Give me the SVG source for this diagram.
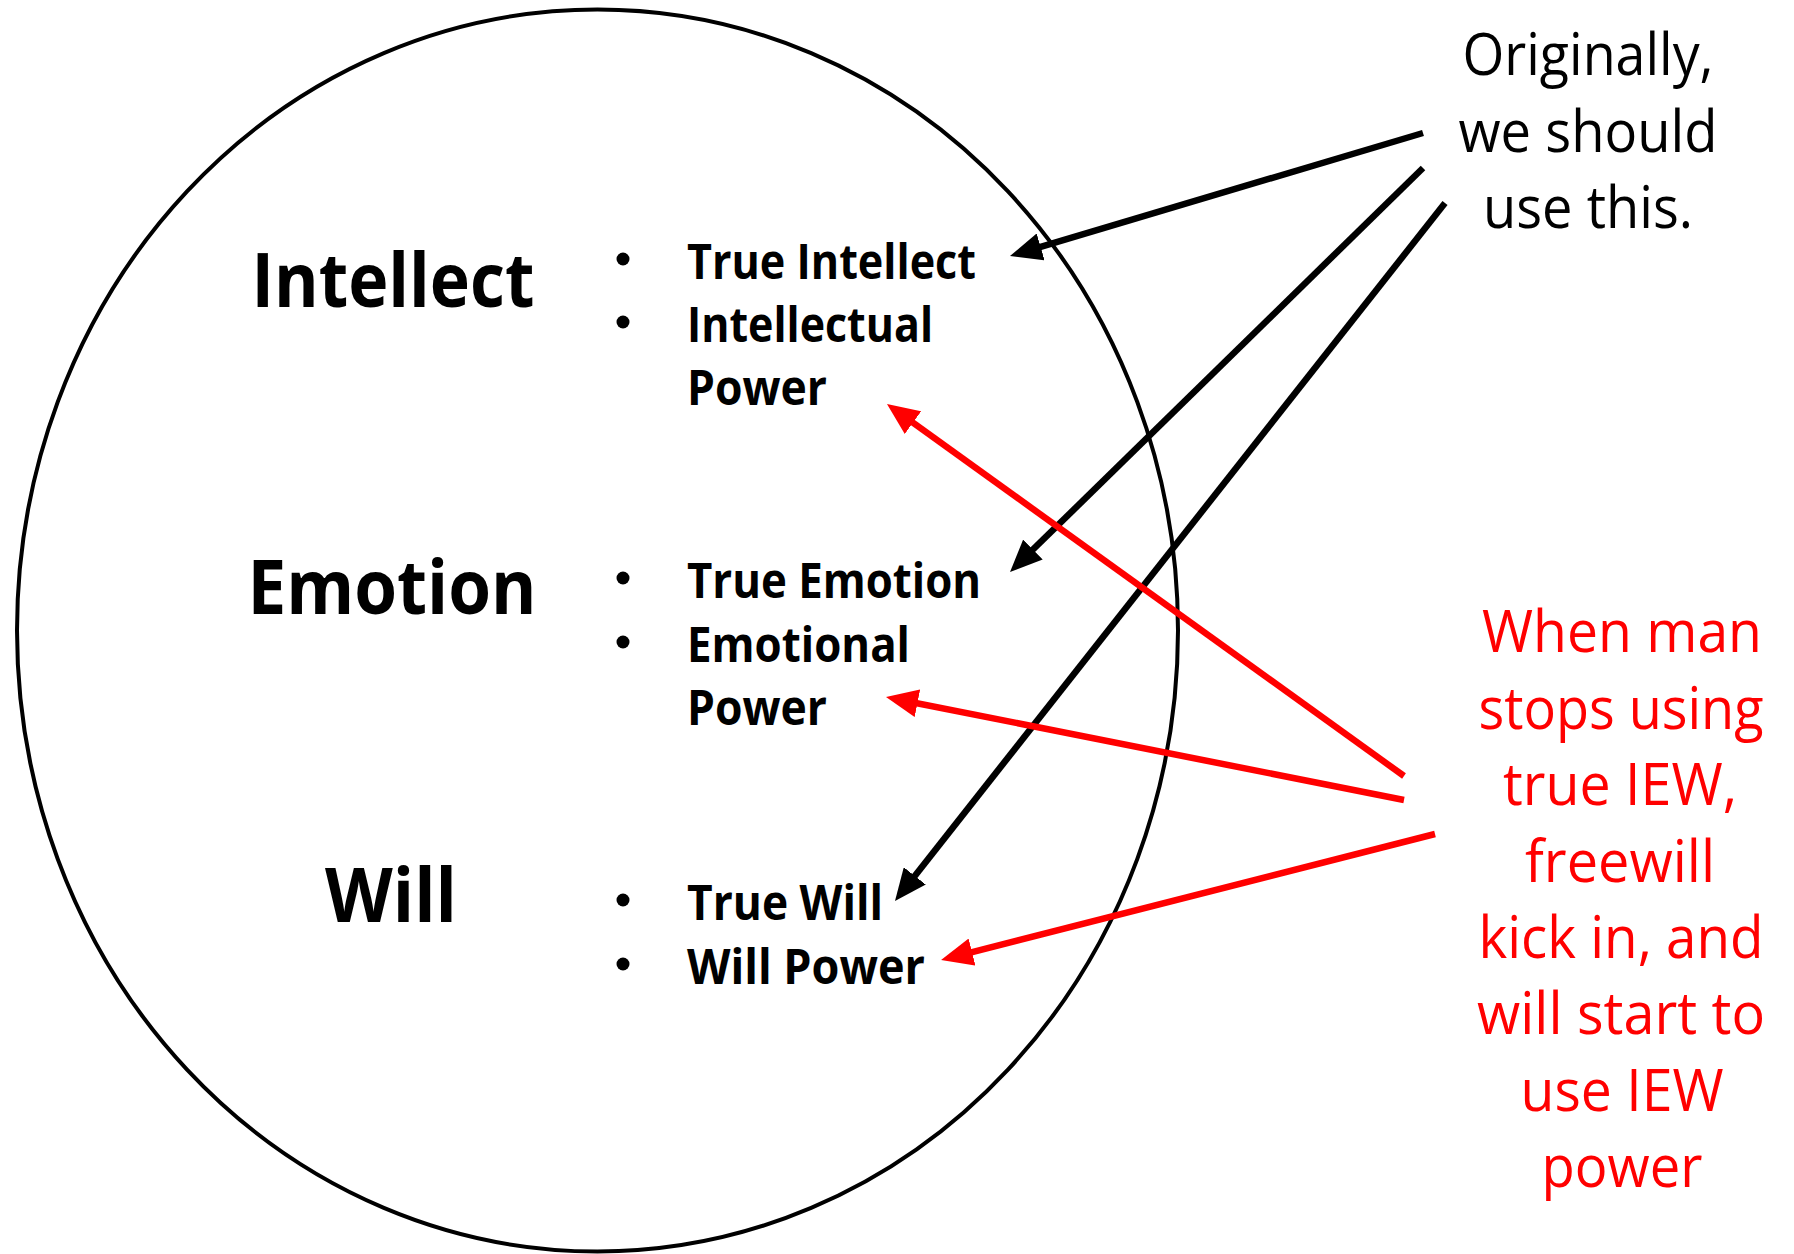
<svg xmlns="http://www.w3.org/2000/svg" width="1794" height="1254" viewBox="0 0 1794 1254">
<style>
.h{font-family:"Open Sans","Noto Sans",sans-serif;font-weight:bold;font-size:75px;fill:#000;text-anchor:middle}
.b{font-family:"Open Sans","Noto Sans",sans-serif;font-weight:bold;font-size:48px;fill:#000}
.n{font-family:"Open Sans","Noto Sans",sans-serif;font-size:59px;fill:#000;text-anchor:middle}
.r{font-family:"Open Sans","Noto Sans",sans-serif;font-size:59px;fill:#ff0000;text-anchor:middle}
.blk{stroke:#000;stroke-width:6.5;fill:none}
.red{stroke:#ff0000;stroke-width:6.5;fill:none}
</style>
<defs>
<marker id="ab" markerUnits="userSpaceOnUse" viewBox="0 0 32 28" markerWidth="32" markerHeight="28" refX="21" refY="14" orient="auto"><path d="M0,0 L32,14 L0,28 z" fill="#000"/></marker>
<marker id="ar" markerUnits="userSpaceOnUse" viewBox="0 0 32 28" markerWidth="32" markerHeight="28" refX="21" refY="14" orient="auto"><path d="M0,0 L32,14 L0,28 z" fill="#ff0000"/></marker>
</defs>
<rect width="1794" height="1254" fill="#fff"/>
<g id="circle"><ellipse cx="597.5" cy="630.5" rx="580.5" ry="621" fill="none" stroke="#000" stroke-width="4"/></g>
<g id="intellect">
<text class="h" x="393" y="307" textLength="283" lengthAdjust="spacingAndGlyphs">Intellect</text>
<circle cx="623" cy="259" r="6.5"/><circle cx="623" cy="322" r="6.5"/>
<text class="b" x="687" y="279" textLength="289" lengthAdjust="spacingAndGlyphs">True Intellect</text>
<text class="b" x="687" y="342" textLength="246" lengthAdjust="spacingAndGlyphs">Intellectual</text>
<text class="b" x="687" y="405" textLength="140" lengthAdjust="spacingAndGlyphs">Power</text>
</g>
<g id="emotion">
<text class="h" x="392" y="614" textLength="289" lengthAdjust="spacingAndGlyphs">Emotion</text>
<circle cx="623" cy="578" r="6.5"/><circle cx="623" cy="642" r="6.5"/>
<text class="b" x="687" y="598" textLength="294" lengthAdjust="spacingAndGlyphs">True Emotion</text>
<text class="b" x="687" y="662" textLength="223" lengthAdjust="spacingAndGlyphs">Emotional</text>
<text class="b" x="687" y="725" textLength="140" lengthAdjust="spacingAndGlyphs">Power</text>
</g>
<g id="will">
<text class="h" x="391" y="922" textLength="132" lengthAdjust="spacingAndGlyphs">Will</text>
<circle cx="623" cy="900" r="6.5"/><circle cx="623" cy="964" r="6.5"/>
<text class="b" x="687" y="920" textLength="196" lengthAdjust="spacingAndGlyphs">True Will</text>
<text class="b" x="687" y="984" textLength="238" lengthAdjust="spacingAndGlyphs">Will Power</text>
</g>
<g id="original-note">
<text class="n" x="1588" y="75" textLength="251" lengthAdjust="spacingAndGlyphs">Originally,</text>
<text class="n" x="1588" y="152" textLength="259" lengthAdjust="spacingAndGlyphs">we should</text>
<text class="n" x="1588" y="228" textLength="210" lengthAdjust="spacingAndGlyphs">use this.</text>
</g>
<g id="freewill-note">
<text class="r" x="1622" y="652" textLength="280" lengthAdjust="spacingAndGlyphs">When man</text>
<text class="r" x="1621" y="729" textLength="285" lengthAdjust="spacingAndGlyphs">stops using</text>
<text class="r" x="1620" y="805" textLength="234" lengthAdjust="spacingAndGlyphs">true IEW,</text>
<text class="r" x="1620" y="882" textLength="190" lengthAdjust="spacingAndGlyphs">freewill</text>
<text class="r" x="1621" y="958" textLength="285" lengthAdjust="spacingAndGlyphs">kick in, and</text>
<text class="r" x="1621" y="1034" textLength="288" lengthAdjust="spacingAndGlyphs">will start to</text>
<text class="r" x="1622" y="1111" textLength="203" lengthAdjust="spacingAndGlyphs">use IEW</text>
<text class="r" x="1622" y="1187" textLength="161" lengthAdjust="spacingAndGlyphs">power</text>
</g>
<g id="connectors">
<line class="blk" x1="1423" y1="133" x2="1020.5" y2="252.9" marker-end="url(#ab)"/>
<line class="blk" x1="1423" y1="168" x2="1017.9" y2="564.3" marker-end="url(#ab)"/>
<line class="blk" x1="1445" y1="203" x2="901.8" y2="892.4" marker-end="url(#ab)"/>
<line class="red" x1="1404" y1="776" x2="895.9" y2="410.4" marker-end="url(#ar)"/>
<line class="red" x1="1404" y1="800" x2="896.8" y2="699.2" marker-end="url(#ar)"/>
<line class="red" x1="1435" y1="834" x2="951.7" y2="957.3" marker-end="url(#ar)"/>
</g>
</svg>
